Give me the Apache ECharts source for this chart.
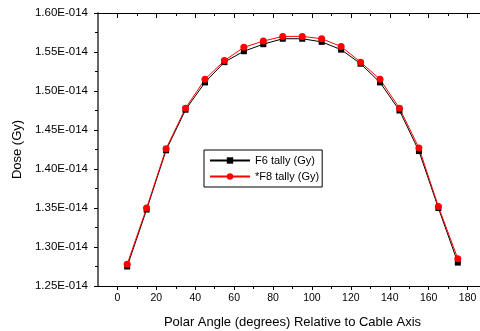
<!DOCTYPE html>
<html>
<head>
<meta charset="utf-8">
<script src="https://cdn.jsdelivr.net/npm/echarts@6/dist/echarts.min.js"></script>
<style>html,body{margin:0;padding:0;background:#fff}#c{width:480px;height:331px}</style>
</head>
<body>
<div id="c"></div>
<script>
// Polar angle (degrees)
var angles = [5, 15, 25, 35, 45, 55, 65, 75, 85, 95, 105, 115, 125, 135, 145, 155, 165, 175];
// Dose (Gy)
var f6Tally = [1.275e-14, 1.348e-14, 1.424e-14, 1.476e-14, 1.511e-14, 1.537e-14, 1.551e-14, 1.560e-14, 1.567e-14,
               1.567e-14, 1.563e-14, 1.553e-14, 1.535e-14, 1.511e-14, 1.475e-14, 1.423e-14, 1.350e-14, 1.280e-14];
var f8Tally = [1.278e-14, 1.350e-14, 1.426e-14, 1.478e-14, 1.515e-14, 1.539e-14, 1.556e-14, 1.564e-14, 1.570e-14,
               1.570e-14, 1.567e-14, 1.557e-14, 1.537e-14, 1.515e-14, 1.478e-14, 1.427e-14, 1.352e-14, 1.285e-14];
var seriesNames = ['F6 tally (Gy)', '*F8 tally (Gy)'];
var xMajorTicks = [0, 20, 40, 60, 80, 100, 120, 140, 160, 180];
var xMinorTicks = [10, 30, 50, 70, 90, 110, 130, 150, 170];
var xTitle = 'Polar Angle (degrees) Relative to Cable Axis';
var yTitle = 'Dose (Gy)';

function pairs(ys) { return angles.map(function (a, i) { return [a, ys[i]]; }); }

var font = 'Liberation Sans, Arial, sans-serif';
var chart = echarts.init(document.getElementById('c'));
var xBase = { type: 'value', min: -10, max: 190, splitLine: { show: false } };
chart.setOption({
  animation: false,
  grid: { left: 98, width: 389, top: 13, height: 273, containLabel: false, outerBoundsMode: 'none' },
  legend: {
    orient: 'vertical', left: 204, top: 150,
    data: seriesNames,
    backgroundColor: '#fff', borderColor: '#000', borderWidth: 1,
    padding: [5, 3, 5, 5], itemGap: 5, itemWidth: 40, itemHeight: 8,
    textStyle: { fontFamily: font, fontSize: 11, color: '#000' }
  },
  xAxis: [
    Object.assign({}, xBase, {
      position: 'bottom',
      name: xTitle, nameLocation: 'middle', nameGap: 30,
      nameTextStyle: { fontFamily: font, fontSize: 13, color: '#000' },
      axisLine: { show: true, onZero: false, lineStyle: { color: '#000', width: 1 } },
      axisTick: { show: true, inside: false, length: 4, customValues: xMajorTicks, lineStyle: { color: '#000' } },
      axisLabel: { show: true, customValues: xMajorTicks, margin: 7, fontFamily: font, fontSize: 10.5, color: '#000' }
    }),
    Object.assign({}, xBase, {
      position: 'bottom',
      axisLine: { show: false, onZero: false },
      axisTick: { show: true, inside: false, length: 3, customValues: xMinorTicks, lineStyle: { color: '#000' } },
      axisLabel: { show: false }
    }),
    Object.assign({}, xBase, {
      position: 'top',
      axisLine: { show: true, onZero: false, lineStyle: { color: '#000', width: 1 } },
      axisTick: { show: true, inside: true, length: 5, customValues: xMajorTicks, lineStyle: { color: '#000' } },
      axisLabel: { show: false }
    }),
    Object.assign({}, xBase, {
      position: 'top',
      axisLine: { show: false, onZero: false },
      axisTick: { show: true, inside: true, length: 3, customValues: xMinorTicks, lineStyle: { color: '#000' } },
      axisLabel: { show: false }
    })
  ],
  yAxis: {
    type: 'value', min: 1.25e-14, max: 1.60e-14, interval: 0.05e-14,
    position: 'left',
    name: yTitle, nameLocation: 'middle', nameGap: 74,
    nameTextStyle: { fontFamily: font, fontSize: 13, color: '#000' },
    axisLine: { show: true, onZero: false, lineStyle: { color: '#333', width: 1.5 } },
    axisTick: { show: true, inside: false, length: 4, lineStyle: { color: '#000' } },
    minorTick: { show: true, splitNumber: 2, length: 3, lineStyle: { color: '#000' } },
    splitLine: { show: false },
    axisLabel: {
      margin: 10, fontFamily: font, fontSize: 11.5, color: '#000',
      formatter: function (v) { return (v * 1e14).toFixed(2) + 'E-014'; }
    }
  },
  series: [
    {
      name: seriesNames[0], type: 'line', xAxisIndex: 0, data: pairs(f6Tally),
      symbol: 'rect', symbolSize: 6, itemStyle: { color: '#000' },
      lineStyle: { color: '#000', width: 1 }
    },
    {
      name: seriesNames[1], type: 'line', xAxisIndex: 0, data: pairs(f8Tally),
      symbol: 'circle', symbolSize: 7, itemStyle: { color: '#ff0000' },
      lineStyle: { color: '#ff0000', width: 1 }
    }
  ]
});
</script>
</body>
</html>
